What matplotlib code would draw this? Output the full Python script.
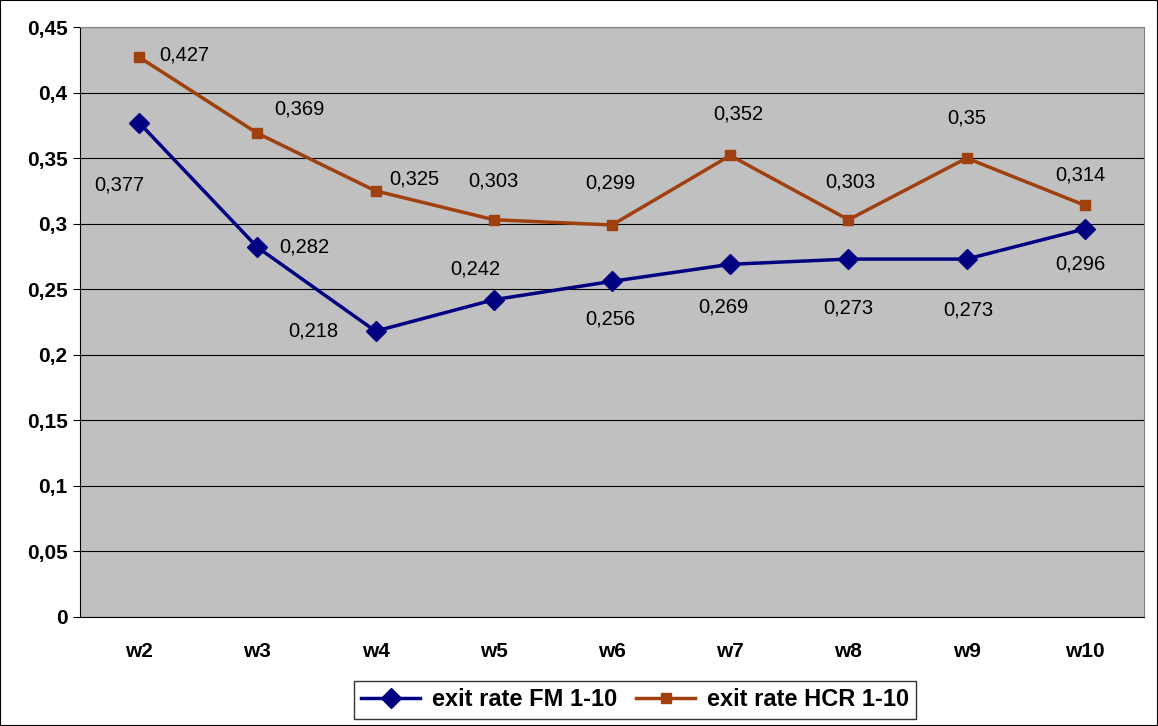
import matplotlib.pyplot as plt
from matplotlib.patches import Rectangle

weeks = ['w2', 'w3', 'w4', 'w5', 'w6', 'w7', 'w8', 'w9', 'w10']
fm = [0.377, 0.282, 0.218, 0.242, 0.256, 0.269, 0.273, 0.273, 0.296]
hcr = [0.427, 0.369, 0.325, 0.303, 0.299, 0.352, 0.303, 0.35, 0.314]

# label offsets in pixels (dx, dy up)
fm_off = [(-20, -62), (47, 0), (-62, 0), (-18, 31), (-2, -38), (-7, -43), (0, -49), (2, -51), (-5, -35)]
hcr_off = [(45, 2), (42, 24), (39, 12), (0, 39), (-2, 42), (8, 41), (2, 38), (0, 40), (-5, 30)]

plt.rcParams['font.family'] = ['Liberation Sans', 'DejaVu Sans']
fig = plt.figure(figsize=(11.58, 7.26), dpi=100)
ax = fig.add_axes([80/1158, 1-617/726, 1064/1158, 590/726])
ax.set_facecolor('#C0C0C0')
x = range(len(weeks))
ax.plot(x, fm, color='#000080', lw=2.5, marker='D', ms=10, label='exit rate FM 1-10', zorder=3)
ax.plot(x, hcr, color='#A0400F', lw=2.5, marker='s', ms=7, label='exit rate HCR 1-10', zorder=3)

for i in x:
    ax.annotate(f'{fm[i]:g}'.replace('.', ','), (i, fm[i]), xytext=fm_off[i], textcoords='offset pixels',
                ha='center', va='center', fontsize=14.5)
    ax.annotate(f'{hcr[i]:g}'.replace('.', ','), (i, hcr[i]), xytext=hcr_off[i], textcoords='offset pixels',
                ha='center', va='center', fontsize=14.5)

ax.set_xlim(-0.5, len(weeks) - 0.5)
ax.set_ylim(0, 0.45)
yt = [i * 0.05 for i in range(10)]
ax.set_yticks(yt)
ax.set_yticklabels([f'{v:g}'.replace('.', ',') for v in [round(t, 2) for t in yt]], fontsize=15, fontweight='bold')
ax.set_xticks(list(x))
ax.set_xticklabels(weeks, fontsize=15, fontweight='bold')
ax.tick_params(axis='x', length=0, pad=18)
ax.tick_params(axis='y', length=5, direction='out', pad=4)
ax.grid(axis='y', color='black', lw=0.8)
ax.set_axisbelow(True)
for s in ax.spines.values():
    s.set_color('#808080')
ax.spines['left'].set_color('black')
ax.spines['bottom'].set_color('black')

leg = fig.legend(loc='center', bbox_to_anchor=(635/1158, 1-700/726), ncol=2,
                 prop={'weight': 'bold', 'size': 17}, frameon=True, fancybox=False,
                 edgecolor='black', handlelength=2.5, columnspacing=0.8, handletextpad=0.5, borderpad=0.3)
leg.get_frame().set_linewidth(1)
fig.patches.append(Rectangle((0, 0), 1, 1, transform=fig.transFigure, fill=False, ec='black', lw=1.5))
fig.savefig('out.png', dpi=100)
